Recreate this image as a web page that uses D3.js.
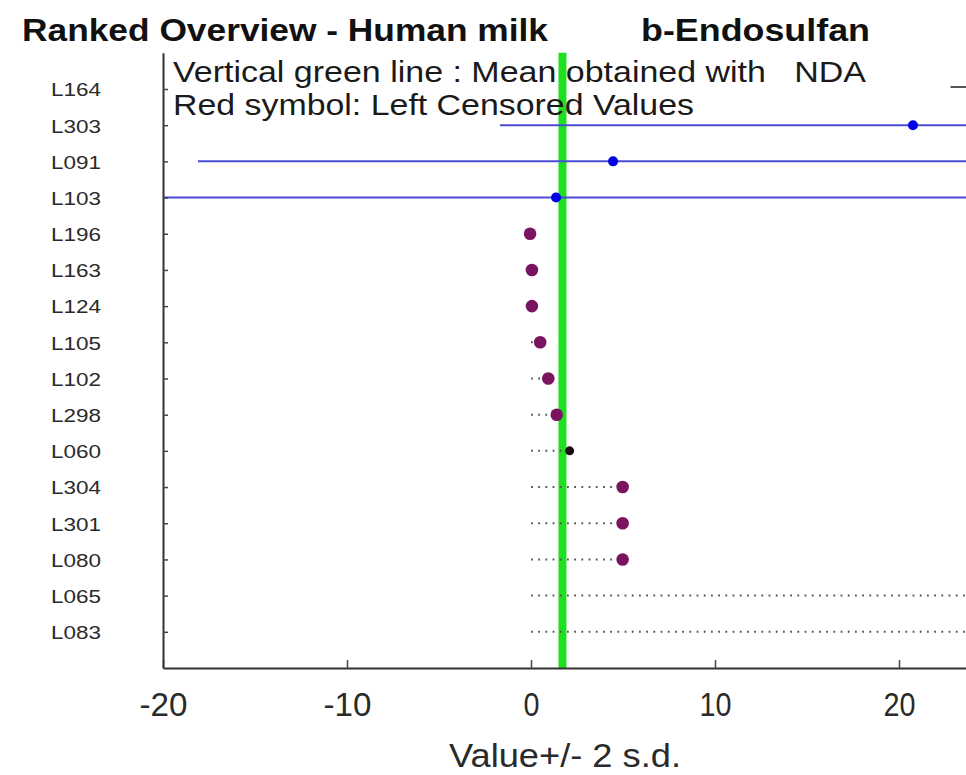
<!DOCTYPE html>
<html><head><meta charset="utf-8">
<script src="https://cdn.jsdelivr.net/npm/d3@7/dist/d3.min.js"></script>
<style>body{margin:0;background:#fff}svg{display:block}text{font-family:"Liberation Sans",Arial,sans-serif}</style>
</head><body><svg id="c" width="966" height="775"></svg>
<script>
// ---- data ----
const labels = ["L164","L303","L091","L103","L196","L163","L124","L105","L102","L298","L060","L304","L301","L080","L065","L083"];
const values = [45, 20.76, 4.46, 1.36, -0.05, 0.05, 0.05, 0.5, 0.94, 1.4, 2.1, 4.98, 4.98, 4.98, 30, 30];
const lower  = [22.8, -1.68, -18.1, -21.1, 0, 0, 0, 0, 0, 0, 0, 0, 0, 0, 0, 0];
const upper  = [67.2, 43.2, 27.0, 23.9, -0.05, 0.05, 0.05, 0.5, 0.94, 1.4, 2.1, 4.98, 4.98, 4.98, 30, 30];
const kinds  = ["gray","est","est","est","cens","cens","cens","cens","cens","cens","dark","cens","cens","cens","cens","cens"];
const meanNDA = 1.71;
const xTicks = [-20, -10, 0, 10, 20];
const titleLeft = "Ranked Overview - Human milk";
const titleRight = "b-Endosulfan";
const legend1 = "Vertical green line : Mean obtained with   NDA";
const legend2 = "Red symbol: Left Censored Values";
const xLabel = "Value+/- 2 s.d.";

// ---- layout ----
const svg = d3.select("#c");
const mLeft = 163, mBottom = 668, mTop = 52.8;
const x = d3.scaleLinear().domain([-20, 25]).range([mLeft, mLeft + 45 * 18.4]);
const y = d3.scaleLinear().domain([0, 17]).range([mTop, mBottom]);
const rowY = i => y(i + 1);

svg.append("defs").append("clipPath").attr("id", "clip")
  .append("rect").attr("x", mLeft).attr("y", 0).attr("width", 966 - mLeft).attr("height", mBottom);

// title
svg.append("text").attr("x", 22).attr("y", 41).attr("font-size", 31).attr("font-weight", "bold")
  .attr("textLength", 526).attr("lengthAdjust", "spacingAndGlyphs").attr("fill", "#111").text(titleLeft);
svg.append("text").attr("x", 641).attr("y", 41).attr("font-size", 31).attr("font-weight", "bold")
  .attr("textLength", 229).attr("lengthAdjust", "spacingAndGlyphs").attr("fill", "#111").text(titleRight);

const plot = svg.append("g").attr("clip-path", "url(#clip)");

// green mean line
plot.append("line").attr("x1", x(meanNDA)).attr("x2", x(meanNDA)).attr("y1", mTop).attr("y2", mBottom)
  .attr("stroke", "#1fe01f").attr("stroke-width", 8);

// legend text
svg.append("text").attr("x", 173).attr("y", 82).attr("font-size", 29).attr("fill", "#1a1a1a")
  .attr("textLength", 693).attr("lengthAdjust", "spacingAndGlyphs").attr("xml:space", "preserve").text(legend1);
svg.append("text").attr("x", 173).attr("y", 115).attr("font-size", 29).attr("fill", "#1a1a1a")
  .attr("textLength", 521).attr("lengthAdjust", "spacingAndGlyphs").text(legend2);

const rows = labels.map((l, i) => ({l, v: values[i], lo: lower[i], hi: upper[i], k: kinds[i], i}));

// interval lines
plot.selectAll("line.iv").data(rows.filter(d => d.hi - d.lo > 0.2)).join("line").attr("class", "iv")
  .attr("x1", d => x(d.lo)).attr("x2", d => x(d.hi))
  .attr("y1", d => rowY(d.i) + (d.k === "gray" ? -2 : 0)).attr("y2", d => rowY(d.i) + (d.k === "gray" ? -2 : 0))
  .attr("stroke", d => d.k === "est" ? "#4a4ad6" : "#555")
  .attr("stroke-width", d => d.k === "est" ? 2 : 2)
  .attr("stroke-dasharray", d => (d.k === "cens" || d.k === "dark") ? "1.8,5.4" : null);

// points
const col = {est: "#0000e6", cens: "#7a1460", dark: "#1a0a14", gray: "#555"};
const rad = {est: 5, cens: 6.3, dark: 4.5, gray: 5};
plot.selectAll("circle.pt").data(rows).join("circle").attr("class", "pt")
  .attr("cx", d => x(d.v)).attr("cy", d => rowY(d.i)).attr("r", d => rad[d.k]).attr("fill", d => col[d.k]);

// axes
const ax = svg.append("g").attr("transform", `translate(0,${mBottom})`)
  .call(d3.axisBottom(x).tickValues(xTicks).tickSize(-8).tickPadding(18).tickSizeOuter(0)
    .tickFormat(d => String(d)));
ax.select(".domain").attr("stroke", "#333").attr("stroke-width", 2);
ax.selectAll(".tick line").attr("stroke", "#444").attr("stroke-width", 1.5);
ax.selectAll(".tick text").attr("font-size", 33).attr("fill", "#2a2a2a").attr("font-family", "Liberation Sans, Arial, sans-serif")
  .attr("dy", "0.71em").attr("y", 25)
  .attr("textLength", d => String(d).length * 16).attr("lengthAdjust", "spacingAndGlyphs");

const ay = svg.append("g").attr("transform", `translate(${mLeft},0)`)
  .call(d3.axisLeft(y).tickValues(d3.range(1, 17)).tickSize(-5).tickPadding(0).tickSizeOuter(0)
    .tickFormat(v => labels[v - 1]));
ay.select(".domain").attr("stroke", "#333").attr("stroke-width", 2);
ay.selectAll(".tick line").attr("stroke", "#444").attr("stroke-width", 1.5);
ay.selectAll(".tick text").attr("font-size", 19).attr("fill", "#2a2a2a").attr("font-family", "Liberation Sans, Arial, sans-serif")
  .attr("x", -62).attr("text-anchor", "end").attr("dy", "0.36em")
  .attr("textLength", 50).attr("lengthAdjust", "spacingAndGlyphs");

// x label
svg.append("text").attr("x", 565).attr("y", 767).attr("text-anchor", "middle").attr("font-size", 33)
  .attr("fill", "#2a2a2a").attr("textLength", 232).attr("lengthAdjust", "spacingAndGlyphs").text(xLabel);
</script></body></html>
